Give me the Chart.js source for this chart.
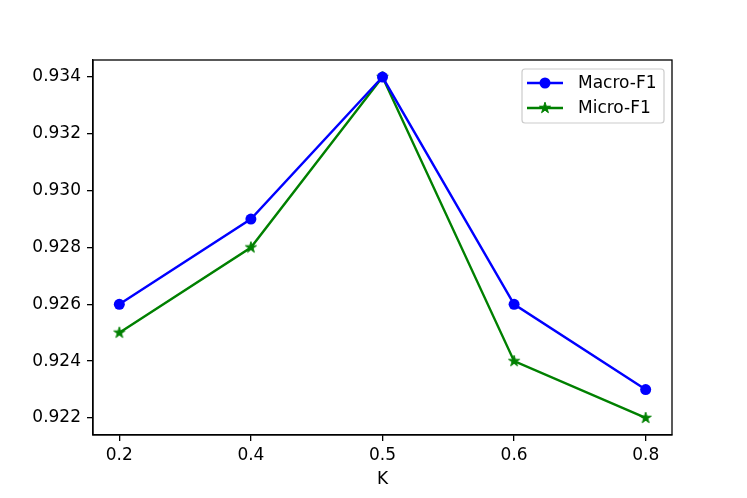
<!DOCTYPE html>
<html>
<head>
<meta charset="utf-8">
<script src="https://cdn.jsdelivr.net/npm/chart.js@4/dist/chart.umd.min.js"></script>
<style>
  html, body { margin: 0; padding: 0; background: #fff; }
  #wrap { width: 747px; height: 498px; }
</style>
</head>
<body>
<div id="wrap"><canvas id="c" width="747" height="498"></canvas></div>
<script>
// data
const K_LABELS = ["0.2", "0.4", "0.5", "0.6", "0.8"];
const MACRO_F1 = [0.926, 0.929, 0.934, 0.926, 0.923];
const MICRO_F1 = [0.925, 0.928, 0.934, 0.924, 0.922];
const Y_TICKS = [0.922, 0.924, 0.926, 0.928, 0.930, 0.932, 0.934];

const FONT = "'DejaVu Sans', sans-serif";
const FSIZE = 17;
const BLUE = "#0000ff";
const GREEN = "#008000";

// matplotlib-style filled star marker
function starCanvas(color, r) {
    const size = Math.ceil(r * 2 + 4);
    const cv = document.createElement("canvas");
    cv.width = size; cv.height = size;
    const g = cv.getContext("2d");
    const c = size / 2, inner = r * 0.382;
    g.beginPath();
    for (let i = 0; i < 10; i++) {
        const rad = i % 2 === 0 ? r : inner;
        const a = -Math.PI / 2 + i * Math.PI / 5;
        const x = c + rad * Math.cos(a), y = c + rad * Math.sin(a);
        i === 0 ? g.moveTo(x, y) : g.lineTo(x, y);
    }
    g.closePath();
    g.fillStyle = color; g.fill();
    g.lineWidth = 1; g.strokeStyle = color; g.stroke();
    return cv;
}
const STAR = starCanvas(GREEN, 5.8);

const toPoints = arr => arr.map((v, i) => ({ x: i, y: v }));

// top + right spine
const frame = {
    id: "frame",
    afterDraw(chart) {
        const { ctx, chartArea: a } = chart;
        ctx.save();
        ctx.strokeStyle = "#000"; ctx.lineWidth = 1.3;
        ctx.strokeRect(a.left, a.top, a.right - a.left, a.bottom - a.top);
        ctx.restore();
    }
};

// legend in the upper right of the axes
const innerLegend = {
    id: "innerLegend",
    afterDraw(chart) {
        const { ctx, chartArea: a } = chart;
        const x0 = a.right - 150, y0 = a.top + 9, w = 142, h = 54;
        ctx.save();
        ctx.fillStyle = "rgba(255,255,255,0.8)";
        ctx.strokeStyle = "#cccccc"; ctx.lineWidth = 1.2;
        ctx.beginPath();
        ctx.roundRect(x0, y0, w, h, 3);
        ctx.fill(); ctx.stroke();
        chart.data.datasets.forEach((ds, i) => {
            const cy = y0 + 14 + i * 25;
            ctx.strokeStyle = ds.borderColor; ctx.lineWidth = 2.4;
            ctx.beginPath(); ctx.moveTo(x0 + 5, cy); ctx.lineTo(x0 + 41, cy); ctx.stroke();
            if (ds.pointStyle === "circle") {
                ctx.fillStyle = ds.borderColor;
                ctx.beginPath(); ctx.arc(x0 + 23, cy, 5.5, 0, Math.PI * 2); ctx.fill();
            } else {
                ctx.drawImage(ds.pointStyle, x0 + 23 - ds.pointStyle.width / 2, cy - ds.pointStyle.height / 2);
            }
            ctx.fillStyle = "#000"; ctx.font = FSIZE + "px " + FONT;
            ctx.textBaseline = "middle"; ctx.textAlign = "left";
            ctx.fillText(ds.label, x0 + 56, cy + 1);
        });
        ctx.restore();
    }
};

new Chart(document.getElementById("c"), {
    type: "line",
    data: {
        datasets: [
            { label: "Macro-F1", data: toPoints(MACRO_F1), borderColor: BLUE, backgroundColor: BLUE,
              borderWidth: 2.4, pointStyle: "circle", pointRadius: 5.5, pointBorderWidth: 0,
              tension: 0, clip: false },
            { label: "Micro-F1", data: toPoints(MICRO_F1), borderColor: GREEN, backgroundColor: GREEN,
              borderWidth: 2.4, pointStyle: STAR, pointRadius: 6,
              tension: 0, clip: false },
        ]
    },
    options: {
        responsive: false, animation: false,
        layout: { padding: { top: 60, right: 75, left: 0, bottom: 0 } },
        plugins: { legend: { display: false }, tooltip: { enabled: false } },
        scales: {
            x: {
                type: "linear", min: -0.2, max: 4.2,
                afterBuildTicks: s => { s.ticks = K_LABELS.map((_, i) => ({ value: i })); },
                afterFit: s => { s.height = 63; },
                grid: { drawOnChartArea: false, tickLength: 6, color: "#000", lineWidth: 1.3 },
                border: { display: true, color: "#000", width: 1.3 },
                ticks: { color: "#000", font: { family: FONT, size: FSIZE }, padding: 4,
                         maxRotation: 0, callback: v => K_LABELS[v] },
                title: { display: true, text: "K", color: "#000",
                         font: { family: FONT, size: FSIZE }, padding: { top: 2, bottom: 8 } }
            },
            y: {
                min: 0.9214, max: 0.9346,
                afterBuildTicks: s => { s.ticks = Y_TICKS.map(v => ({ value: v })); },
                afterFit: s => { s.width = 93; },
                grid: { drawOnChartArea: false, tickLength: 6, color: "#000", lineWidth: 1.3 },
                border: { display: true, color: "#000", width: 1.3 },
                ticks: { color: "#000", font: { family: FONT, size: FSIZE }, padding: 6,
                         callback: v => v.toFixed(3) }
            }
        }
    },
    plugins: [frame, innerLegend]
});
</script>
</body>
</html>
